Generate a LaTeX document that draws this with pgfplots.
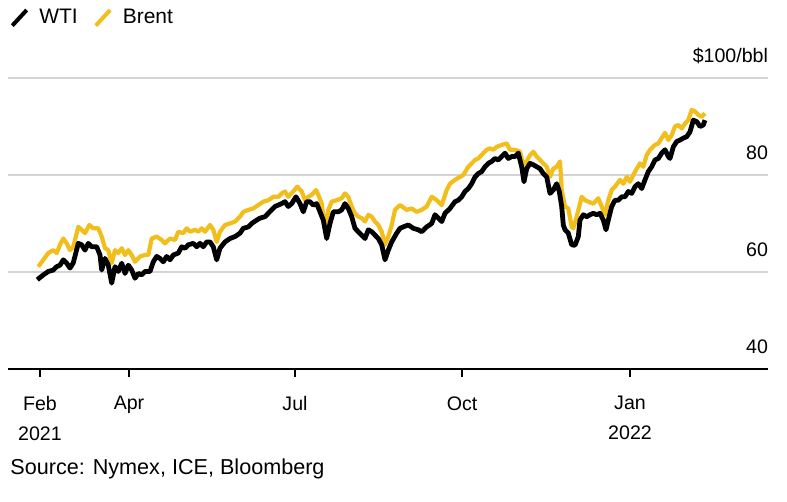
\documentclass[border=0pt]{standalone}
\usepackage{fontspec}
\setmainfont{Liberation Sans}
\usepackage{pgfplots}
\pgfplotsset{compat=1.18}
\definecolor{brentyellow}{RGB}{242,190,28}
\definecolor{gridgray}{RGB}{212,212,212}
\begin{document}
\begin{tikzpicture}
\begin{axis}[
  scale only axis, width=380pt, height=145.5pt,
  xmin=8, xmax=768, ymin=40, ymax=100,
  axis x line=bottom, axis y line=right,
  x axis line style={-, black, line width=1pt},
  y axis line style={draw=none},
  xtick={40,129,295,462,630},
  xticklabels={{Feb\\2021},{Apr},{Jul},{Oct},{Jan\\2022}},
  xticklabel style={font=\fontsize{9.8}{15}\selectfont, align=center, anchor=north, inner sep=0pt, yshift=-9.5pt},
  tick align=outside,
  major tick length=4pt,
  xtick style={black, line width=0.8pt},
  ytick={40,60,80,100},
  yticklabels={40,60,80,\$100/bbl},
  ytick style={draw=none},
  yticklabel style={font=\fontsize{9.8}{12}\selectfont, anchor=base east, inner sep=0pt, xshift=-3.8pt, yshift=7.5pt},
  ymajorgrids, grid style={gridgray, line width=0.9pt},
  clip=false,
  legend image code/.code={\draw[#1] (0pt,-3.8pt) -- (7.2pt,4pt); \path[draw=none] (0pt,0pt) -- (11.5pt,0pt);},
  legend style={at={(rel axis cs:0.003,1.206)}, anchor=west, draw=none, fill=none,
    inner sep=0pt, outer sep=0pt, font=\fontsize{10.5}{12}\selectfont,
    /tikz/every even column/.append style={column sep=6pt}},
  legend columns=-1,
]
\addlegendimage{black, line width=2pt}
\addlegendentry{WTI}
\addlegendimage{brentyellow, line width=2pt}
\addlegendentry{Brent}

\addplot[forget plot, brentyellow, line width=2.1pt, line join=round] coordinates {
(38.3,61.1)(43.3,62.5)(48.3,63.9)(53.3,64.5)(56.7,63.9)(60,65.6)(63.3,66.9)(66.7,65.9)(70,64.5)(73.3,65.2)
(78.3,69.3)(81.7,68.7)(85,68.0)(89.3,69.7)(93.3,69.0)(98.3,69.0)(101.7,67.3)(105,64.9)(108.3,64.5)(111.7,61.8)
(115,64.5)(118.3,63.9)(121.7,64.9)(125,63.5)(128.3,64.5)(131.7,63.5)(135,62.1)(140,63.2)(145,63.5)(148.3,63.5)
(151.7,66.9)(156.7,67.3)(161.7,66.6)(165,65.9)(170,66.9)(175,66.6)(178.3,68.3)(183.3,68.0)(186.7,69.0)(190,68.3)
(195,68.7)(198.3,68.3)(201.7,69.0)(205,68.3)(210,69.7)(213.3,68.7)(216.7,66.2)(220,68.3)(225,69.7)(230,70.0)
(235,70.4)(240,71.4)(243.3,72.4)(248.3,72.8)(253.3,73.1)(258.3,73.8)(263.3,74.5)(268.3,74.8)(273.3,75.5)(278.3,75.5)
(281.7,76.2)(285,76.6)(288.3,75.5)(293.3,76.6)(297.3,77.6)(301.7,76.6)(305,74.8)(308.3,75.5)(311.7,75.9)(316,76.9)
(318.3,75.9)(321.7,74.1)(325,68.7)(328.3,72.8)(331.7,74.5)(336.7,74.8)(341.7,75.2)(345,76.2)(348.3,75.5)(351.7,73.5)
(355,72.1)(358.3,71.4)(361.7,71.1)(365,70.4)(368.3,71.8)(371.7,71.4)(375,70.4)(378.3,69.7)(381.7,68.3)(385,65.6)
(388.3,67.3)(391.7,69.7)(395,72.8)(400,73.8)(406.7,72.8)(411.7,73.1)(416.7,72.4)(421.7,72.8)(426.7,73.5)(431.7,75.5)
(436.7,74.8)(441.7,73.8)(446.7,76.9)(450,78.2)(455,79.0)(460,79.6)(463.3,80.0)(468.3,81.7)(471.7,82.4)(475,83.1)
(478.3,83.4)(483.3,84.5)(486.7,85.2)(490,85.5)(493.3,85.2)(496.7,85.8)(501.7,86.2)(506.7,86.5)(510,85.2)(515,85.2)
(520,84.8)(523.3,82.1)(526.7,82.8)(530,84.1)(533.3,84.8)(536.7,83.8)(540,83.1)(543.3,82.4)(546.7,81.7)(550,79.6)
(553.3,81.3)(556.7,81.7)(560,82.8)(561.7,76.9)(565,73.5)(568.3,73.1)(571.7,69.3)(573.3,69.0)(576.7,71.4)(581.7,75.5)
(585,74.8)(588.3,74.5)(593.3,74.1)(598.3,75.2)(601.7,73.5)(605,71.8)(608.3,74.8)(611.7,76.9)(615,77.6)(620,79.0)
(623.3,78.2)(626.7,79.6)(630,78.6)(633.3,80.0)(636.7,81.3)(640,82.4)(643.3,81.7)(646.7,84.1)(650,85.2)(655,86.2)
(658.3,86.5)(661.7,87.6)(665,88.7)(668.3,87.2)(671.7,88.2)(675,90.0)(678.3,90.3)(681.7,89.6)(685,90.6)(688.3,91.3)
(691.7,93.4)(695,93.1)(698.3,92.4)(701.7,92.0)(705,92.7)
};

\addplot[forget plot, black, line width=2.4pt, line join=round] coordinates {
(37.3,58.4)(43.3,59.4)(48.3,60.1)(53.3,60.4)(56.7,61.1)(60,61.4)(63.3,62.5)(66.7,61.8)(70,60.8)(73.3,61.9)
(78.3,65.9)(81.7,65.6)(85,64.5)(88.3,65.9)(91.7,65.2)(96.7,65.2)(100,63.5)(101.7,60.4)(105,62.8)(108.3,61.4)
(111.7,57.7)(115,61.1)(118.3,60.1)(121.7,61.8)(125,59.7)(128.3,61.4)(131.7,60.4)(135,58.7)(138.3,59.7)(141.7,59.4)
(145,60.1)(150,60.1)(153.3,62.1)(156.7,63.2)(160,62.8)(163.3,62.1)(166.7,63.2)(170,62.5)(173.3,63.5)(178.3,63.9)
(181.7,65.2)(185,64.9)(188.3,65.6)(193.3,65.9)(196.7,65.2)(200,65.9)(203.3,65.2)(206.7,66.2)(210,66.2)(213.3,65.2)
(216.7,62.5)(220,64.9)(225,66.2)(230,66.9)(235,67.3)(240,68.0)(243.3,69.0)(248.3,69.3)(251.7,70.0)(256.7,70.7)
(260,71.1)(265,71.4)(268.3,72.1)(271.7,72.8)(275,73.5)(278.3,73.8)(281.7,74.1)(285,74.5)(288.3,73.5)(291.7,74.1)
(296,75.5)(300,74.1)(303.3,72.4)(306.7,74.5)(310,74.5)(313.3,73.8)(316.7,74.1)(320,72.4)(323.3,70.7)(326.7,66.9)
(330,70.0)(333.3,72.4)(338.3,72.4)(341.7,72.8)(345,74.1)(348.3,73.1)(351.7,71.4)(355,69.0)(358.3,68.3)(361.7,67.6)
(365,66.9)(368.3,68.7)(371.7,68.3)(375,67.6)(378.3,66.9)(381.7,65.6)(385,62.5)(388.3,64.5)(391.7,66.2)(396.7,68.0)
(400,69.0)(403.3,69.3)(408.3,69.7)(413.3,69.0)(418.3,68.7)(421.7,68.3)(426.7,69.3)(431.7,70.0)(435,71.8)(438.3,71.1)
(441.7,70.4)(445,72.1)(450,73.1)(455,74.5)(458.3,74.8)(461.7,75.5)(465,76.6)(468.3,77.2)(471.7,78.2)(475,79.6)
(478.3,80.3)(481.7,80.7)(485,81.7)(488.3,82.4)(491.7,82.8)(495,83.4)(498.3,83.1)(501.7,83.8)(505,84.5)(508.3,83.4)
(511.7,83.8)(515,83.8)(518.3,84.5)(521.7,81.7)(524,78.6)(526.7,81.3)(530,82.4)(533.3,82.1)(536.7,81.7)(540,81.3)
(543.3,80.3)(546.7,79.6)(550,76.2)(553.3,76.9)(556.7,78.2)(559.3,76.6)(561.7,73.5)(563.3,69.7)(565,68.7)(568.3,68.0)
(571.7,65.6)(575,65.5)(578.3,67.3)(580,70.7)(583.3,71.8)(586.7,71.4)(590,71.8)(593.3,72.1)(596.7,71.8)(600,72.1)
(603.3,70.7)(606,68.7)(608.3,70.7)(611.7,73.5)(615,74.8)(618.3,74.8)(621.7,75.5)(625,75.5)(628.3,76.6)(631.7,76.2)
(635,77.6)(638.3,78.2)(641.7,77.2)(645,79.0)(648.3,80.7)(651.7,81.7)(655,83.1)(658.3,83.4)(661.7,84.5)(665,85.2)
(668.3,83.8)(670,83.4)(673.3,85.8)(676.7,86.9)(680,87.2)(683.3,87.6)(686.7,87.9)(690,88.9)(693.3,91.3)(696.7,91.0)
(700,90.0)(703.3,90.3)(705,91.3)
};

\node[anchor=base west, inner sep=0pt, font=\fontsize{10.8}{12}\selectfont] at (axis cs:10,18.14) {Source: Nymex, ICE, Bloomberg};
\path (axis cs:0,12.58) rectangle (axis cs:787,116.08);
\end{axis}
\end{tikzpicture}
\end{document}
